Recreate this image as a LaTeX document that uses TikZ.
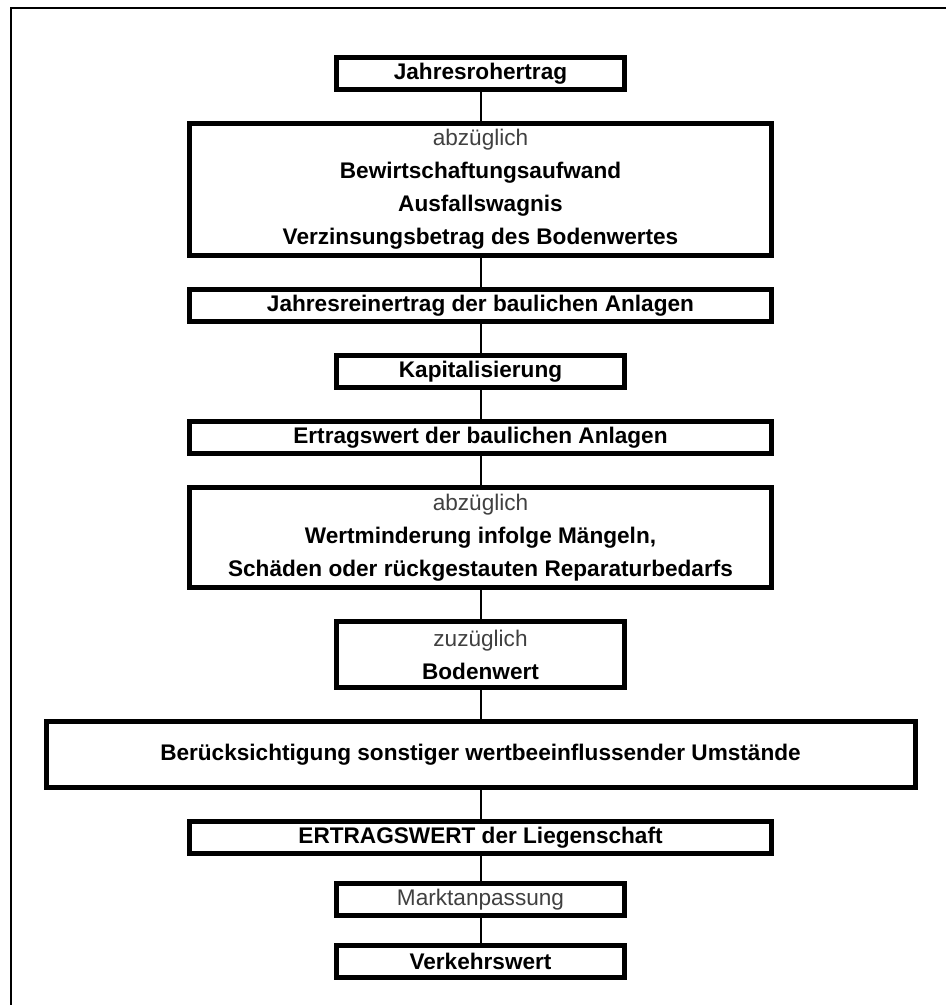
\documentclass[tikz,border=0pt]{standalone}
\usepackage{fontspec}
\setmainfont{Liberation Sans}
\usetikzlibrary{positioning}

\newcommand{\lighttext}[1]{{\mdseries\color{black!75}#1}}

\begin{document}
\begin{tikzpicture}[
    node distance=14.5pt,
    box/.style={draw, line width=2.5pt, inner sep=2pt, align=center,
        font=\fontsize{11.3}{16.5}\selectfont\bfseries},
    smallbox/.style={box, minimum width=144pt, minimum height=16pt},
    midbox/.style={box, minimum width=291pt, minimum height=16pt},
    widebox/.style={box, minimum width=434.5pt, minimum height=33pt},
    link/.style={line width=1pt},
    frame/.style={line width=1.1pt},
]
    \useasboundingbox (0,0) rectangle (473pt,-502.5pt);
    \draw[frame] (5.5pt,-502.5pt) |- (473pt,-4pt);

    \node[smallbox, anchor=north] (rohertrag) at (240.25pt,-27.5pt) {Jahresrohertrag};
    \node[midbox, minimum height=66pt, below=of rohertrag] (abzug) {\lighttext{abzüglich}\\Bewirtschaftungsaufwand\\Ausfallswagnis\\Verzinsungsbetrag des Bodenwertes};
    \node[midbox, below=of abzug] (reinertrag) {Jahresreinertrag der baulichen Anlagen};
    \node[smallbox, below=of reinertrag] (kapital) {Kapitalisierung};
    \node[midbox, below=of kapital] (ertragbau) {Ertragswert der baulichen Anlagen};
    \node[midbox, minimum height=50pt, below=of ertragbau] (minderung) {\lighttext{abzüglich}\\Wertminderung infolge Mängeln,\\Schäden oder rückgestauten Reparaturbedarfs};
    \node[smallbox, minimum height=33pt, below=of minderung] (boden) {\lighttext{zuzüglich}\\Bodenwert};
    \node[widebox, below=of boden] (umstaende) {Berücksichtigung sonstiger wertbeeinflussender Umstände};
    \node[midbox, below=of umstaende] (ertragswert) {ERTRAGSWERT der Liegenschaft};
    \node[smallbox, below=12.5pt of ertragswert] (markt) {\lighttext{Marktanpassung}};
    \node[smallbox, below=12.5pt of markt] (verkehr) {Verkehrswert};

    \draw[link] (rohertrag) -- (abzug);
    \draw[link] (abzug) -- (reinertrag);
    \draw[link] (reinertrag) -- (kapital);
    \draw[link] (kapital) -- (ertragbau);
    \draw[link] (ertragbau) -- (minderung);
    \draw[link] (minderung) -- (boden);
    \draw[link] (boden) -- (umstaende);
    \draw[link] (umstaende) -- (ertragswert);
    \draw[link] (ertragswert) -- (markt);
    \draw[link] (markt) -- (verkehr);
\end{tikzpicture}
\end{document}
